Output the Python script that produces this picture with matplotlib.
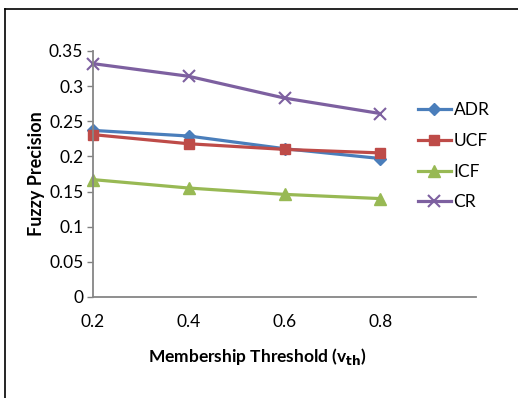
import matplotlib
matplotlib.use("Agg")
import matplotlib.pyplot as plt
from matplotlib.lines import Line2D

plt.rcParams['font.family'] = ['Lato', 'DejaVu Sans']

thresholds = ['0.2', '0.4', '0.6', '0.8']
adr = [0.237, 0.229, 0.211, 0.197]
ucf = [0.231, 0.218, 0.210, 0.205]
icf = [0.167, 0.155, 0.146, 0.140]
cr = [0.332, 0.314, 0.283, 0.261]

series = [
    ('ADR', adr, '#4A7EBB', 'D', 6),
    ('UCF', ucf, '#BE4B48', 's', 7),
    ('ICF', icf, '#98B954', '^', 8),
    ('CR', cr, '#7D60A0', 'x', 8),
]

fig = plt.figure(figsize=(5.18, 3.98), dpi=100)
ax = fig.add_axes([0.1795, 0.2538, 0.919 - 0.1795, 0.8719 - 0.2538])

x = list(range(len(thresholds)))
for name, vals, col, mk, ms in series:
    ax.plot(x, vals, color=col, lw=2.3, marker=mk, ms=ms, mew=1.5 if mk == 'x' else 1,
            mec=col, mfc=col, label=name, clip_on=False)

ax.set_xlim(0, 4)
ax.set_ylim(0, 0.35)
ax.set_xticks(x)
ax.set_xticklabels(thresholds)
ax.set_yticks([0, 0.05, 0.1, 0.15, 0.2, 0.25, 0.3, 0.35])
ax.set_yticklabels(['0', '0.05', '0.1', '0.15', '0.2', '0.25', '0.3', '0.35'])
ax.tick_params(axis='both', labelsize=12.5, colors='#808080', labelcolor='black')
ax.tick_params(axis='x', length=0, pad=12)
ax.tick_params(axis='y', length=4, width=1, pad=3)
for s in ['top', 'right']:
    ax.spines[s].set_visible(False)
for s in ['left', 'bottom']:
    ax.spines[s].set_color('#868686')
    ax.spines[s].set_linewidth(1.3)

ax.set_ylabel('Fuzzy Precision', fontsize=13, fontweight='bold')
ax.yaxis.set_label_coords(-0.125, 0.5)
ax.set_xlabel(r'Membership Threshold (v$_{\mathbf{th}}$)', fontsize=12.5, fontweight='bold')
ax.xaxis.set_label_coords(0.428, -0.2)

ax.legend(loc='upper left', bbox_to_anchor=(0.83, 0.82), frameon=False, fontsize=12.5,
          handlelength=1.9, handletextpad=0.15, labelspacing=0.85, borderaxespad=0)

# outer frame lines seen at top and left
fig.add_artist(Line2D([5 / 518, 5 / 518], [0, 1 - 9 / 398], transform=fig.transFigure, color='black', lw=1.2))
fig.add_artist(Line2D([5 / 518, 1], [1 - 9 / 398, 1 - 9 / 398], transform=fig.transFigure, color='black', lw=1.2))

fig.savefig('out.png', dpi=100)
